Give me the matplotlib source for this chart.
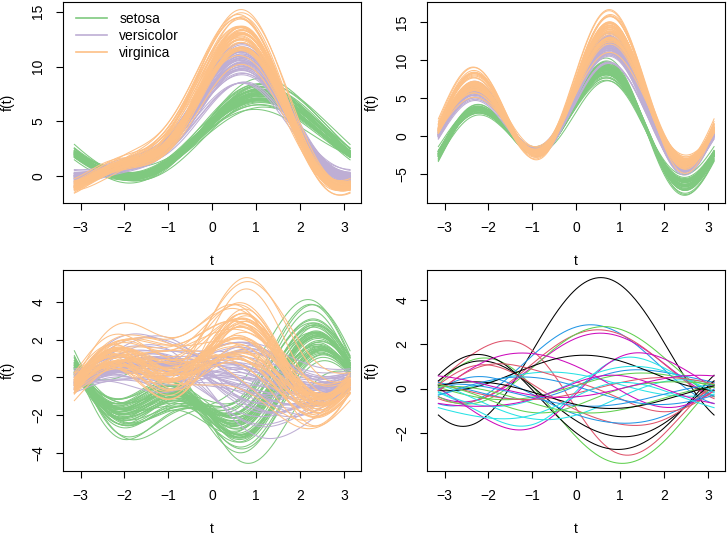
import numpy as np
import matplotlib
matplotlib.use("Agg")
from matplotlib import pyplot as plt

plt.rcParams['font.family'] = ['Liberation Sans', 'DejaVu Sans']
plt.rcParams['font.size'] = 10

# iris measurements (setosa 1-50, versicolor 51-100, virginica 101-150)
sepal_length = [
    5.1, 4.9, 4.7, 4.6, 5.0, 5.4, 4.6, 5.0, 4.4, 4.9, 5.4, 4.8, 4.8, 4.3, 5.8, 5.7, 5.4, 5.1, 5.7, 5.1,
    5.4, 5.1, 4.6, 5.1, 4.8, 5.0, 5.0, 5.2, 5.2, 4.7, 4.8, 5.4, 5.2, 5.5, 4.9, 5.0, 5.5, 4.9, 4.4, 5.1,
    5.0, 4.5, 4.4, 5.0, 5.1, 4.8, 5.1, 4.6, 5.3, 5.0,
    7.0, 6.4, 6.9, 5.5, 6.5, 5.7, 6.3, 4.9, 6.6, 5.2, 5.0, 5.9, 6.0, 6.1, 5.6, 6.7, 5.6, 5.8, 6.2, 5.6,
    5.9, 6.1, 6.3, 6.1, 6.4, 6.6, 6.8, 6.7, 6.0, 5.7, 5.5, 5.5, 5.8, 6.0, 5.4, 6.0, 6.7, 6.3, 5.6, 5.5,
    5.5, 6.1, 5.8, 5.0, 5.6, 5.7, 5.7, 6.2, 5.1, 5.7,
    6.3, 5.8, 7.1, 6.3, 6.5, 7.6, 4.9, 7.3, 6.7, 7.2, 6.5, 6.4, 6.8, 5.7, 5.8, 6.4, 6.5, 7.7, 7.7, 6.0,
    6.9, 5.6, 7.7, 6.3, 6.7, 7.2, 6.2, 6.1, 6.4, 7.2, 7.4, 7.9, 6.4, 6.3, 6.1, 7.7, 6.3, 6.4, 6.0, 6.9,
    6.7, 6.9, 5.8, 6.8, 6.7, 6.7, 6.3, 6.5, 6.2, 5.9]
sepal_width = [
    3.5, 3.0, 3.2, 3.1, 3.6, 3.9, 3.4, 3.4, 2.9, 3.1, 3.7, 3.4, 3.0, 3.0, 4.0, 4.4, 3.9, 3.5, 3.8, 3.8,
    3.4, 3.7, 3.6, 3.3, 3.4, 3.0, 3.4, 3.5, 3.4, 3.2, 3.1, 3.4, 4.1, 4.2, 3.1, 3.2, 3.5, 3.6, 3.0, 3.4,
    3.5, 2.3, 3.2, 3.5, 3.8, 3.0, 3.8, 3.2, 3.7, 3.3,
    3.2, 3.2, 3.1, 2.3, 2.8, 2.8, 3.3, 2.4, 2.9, 2.7, 2.0, 3.0, 2.2, 2.9, 2.9, 3.1, 3.0, 2.7, 2.2, 2.5,
    3.2, 2.8, 2.5, 2.8, 2.9, 3.0, 2.8, 3.0, 2.9, 2.6, 2.4, 2.4, 2.7, 2.7, 3.0, 3.4, 3.1, 2.3, 3.0, 2.5,
    2.6, 3.0, 2.6, 2.3, 2.7, 3.0, 2.9, 2.9, 2.5, 2.8,
    3.3, 2.7, 3.0, 2.9, 3.0, 3.0, 2.5, 2.9, 2.5, 3.6, 3.2, 2.7, 3.0, 2.5, 2.8, 3.2, 3.0, 3.8, 2.6, 2.2,
    3.2, 2.8, 2.8, 2.7, 3.3, 3.2, 2.8, 3.0, 2.8, 3.0, 2.8, 3.8, 2.8, 2.8, 2.6, 3.0, 3.4, 3.1, 3.0, 3.1,
    3.1, 3.1, 2.7, 3.2, 3.3, 3.0, 2.5, 3.0, 3.4, 3.0]
petal_length = [
    1.4, 1.4, 1.3, 1.5, 1.4, 1.7, 1.4, 1.5, 1.4, 1.5, 1.5, 1.6, 1.4, 1.1, 1.2, 1.5, 1.3, 1.4, 1.7, 1.5,
    1.7, 1.5, 1.0, 1.7, 1.9, 1.6, 1.6, 1.5, 1.4, 1.6, 1.6, 1.5, 1.5, 1.4, 1.5, 1.2, 1.3, 1.4, 1.3, 1.5,
    1.3, 1.3, 1.3, 1.6, 1.9, 1.4, 1.6, 1.4, 1.5, 1.4,
    4.7, 4.5, 4.9, 4.0, 4.6, 4.5, 4.7, 3.3, 4.6, 3.9, 3.5, 4.2, 4.0, 4.7, 3.6, 4.4, 4.5, 4.1, 4.5, 3.9,
    4.8, 4.0, 4.9, 4.7, 4.3, 4.4, 4.8, 5.0, 4.5, 3.5, 3.8, 3.7, 3.9, 5.1, 4.5, 4.5, 4.7, 4.4, 4.1, 4.0,
    4.4, 4.6, 4.0, 3.3, 4.2, 4.2, 4.2, 4.3, 3.0, 4.1,
    6.0, 5.1, 5.9, 5.6, 5.8, 6.6, 4.5, 6.3, 5.8, 6.1, 5.1, 5.3, 5.5, 5.0, 5.1, 5.3, 5.5, 6.7, 6.9, 5.0,
    5.7, 4.9, 6.7, 4.9, 5.7, 6.0, 4.8, 4.9, 5.6, 5.8, 6.1, 6.4, 5.6, 5.1, 5.6, 6.1, 5.6, 5.5, 4.8, 5.4,
    5.6, 5.1, 5.1, 5.9, 5.7, 5.2, 5.0, 5.2, 5.4, 5.1]
petal_width = [
    0.2, 0.2, 0.2, 0.2, 0.2, 0.4, 0.3, 0.2, 0.2, 0.1, 0.2, 0.2, 0.1, 0.1, 0.2, 0.4, 0.4, 0.3, 0.3, 0.3,
    0.2, 0.4, 0.2, 0.5, 0.2, 0.2, 0.4, 0.2, 0.2, 0.2, 0.2, 0.4, 0.1, 0.2, 0.2, 0.2, 0.2, 0.1, 0.2, 0.2,
    0.3, 0.3, 0.2, 0.6, 0.4, 0.3, 0.2, 0.2, 0.2, 0.2,
    1.4, 1.5, 1.5, 1.3, 1.5, 1.3, 1.6, 1.0, 1.3, 1.4, 1.0, 1.5, 1.0, 1.4, 1.3, 1.4, 1.5, 1.0, 1.5, 1.1,
    1.8, 1.3, 1.5, 1.2, 1.3, 1.4, 1.4, 1.7, 1.5, 1.0, 1.1, 1.0, 1.2, 1.6, 1.5, 1.6, 1.5, 1.3, 1.3, 1.3,
    1.2, 1.4, 1.2, 1.0, 1.3, 1.2, 1.3, 1.3, 1.1, 1.3,
    2.5, 1.9, 2.1, 1.8, 2.2, 2.1, 1.7, 1.8, 1.8, 2.5, 2.0, 1.9, 2.1, 2.0, 2.4, 2.3, 1.8, 2.2, 2.3, 1.5,
    2.3, 2.0, 2.0, 1.8, 2.1, 1.8, 1.8, 1.8, 2.1, 1.6, 1.9, 2.0, 2.2, 1.5, 1.4, 2.3, 2.4, 1.8, 1.8, 2.1,
    2.4, 2.3, 1.9, 2.3, 2.5, 2.3, 1.9, 2.0, 2.3, 1.8]
species_names = ['setosa', 'versicolor', 'virginica']
species_colors = ['#7FC97F', '#BEAED4', '#FDC086']
species = [0] * 50 + [1] * 50 + [2] * 50

# bottom-right panel: small 4-variable data set
demo_x1 = [2.33, -0.42, -1.41, 1.48, -0.21, 1.34, -0.99, 1.41, 1.48, 0.28, 0.28, -0.14, -0.78, -0.57, 0.14,
           -0.85, -0.71, 0.64, 0.99, 0.14, -0.71, -0.42, 0.14, -0.28, -0.42, 0.00, -0.42, -0.14, -0.85, 0.14]
demo_x2 = [1.78, -2.45, -2.06, 0.59, 1.45, 0.81, -1.70, 0.79, 1.03, 0.64, -0.31, 1.69, -1.45, -1.23, 0.60,
           -0.88, 0.58, -1.09, 0.14, -1.00, -0.18, -0.17, 0.87, 0.52, -0.43, 0.45, 0.52, -0.59, 0.76, 0.17]
demo_x3 = [2.84, -0.60, -1.18, 1.73, 0.03, 1.32, -1.30, 1.45, 1.41, -0.08, 0.45, -0.13, -0.90, -0.56, 0.04,
           -0.57, -0.69, 0.55, 0.79, 0.20, -0.57, -0.47, 0.24, 0.47, -0.42, -0.21, -0.47, 0.20, 0.26, -0.47]
demo_x4 = [0.00, -0.30, 0.00, 0.00, 0.30, 0.00, 0.10, 0.00, 0.00, 0.10, 0.00, 0.20, 0.10, 0.15, 0.00,
           0.10, 0.00, 0.10, 0.00, 0.20, 0.00, 0.00, 0.00, 0.10, 0.00, 0.00, 0.10, 0.00, 0.10, 0.00]
demo_colors = ['black', '#DF536B', '#61D04F', '#2297E6', '#28E2E5', '#CD0BBC']


def andrews(data, t):
    # f(t) = x1/sqrt(2) + x2 sin t + x3 cos t + x4 sin 2t + ...
    data = np.asarray(data, dtype=float)
    basis = [np.ones_like(t) / np.sqrt(2)]
    k = 1
    while len(basis) < data.shape[1]:
        basis.append(np.sin(k * t))
        basis.append(np.cos(k * t))
        k += 1
    return data @ np.vstack(basis[:data.shape[1]])


def style(ax, yticks):
    ax.margins(x=0.04, y=0.04)
    ax.set_xticks([-3, -2, -1, 0, 1, 2, 3])
    ax.set_yticks(yticks)
    ax.tick_params(direction='out', length=5, width=0.8, pad=8, labelsize=10)
    for lab in ax.get_yticklabels():
        lab.set_rotation(90)
        lab.set_va('center')
    for s in ax.spines.values():
        s.set_linewidth(0.8)
    ax.set_xlabel('t', labelpad=14)
    ax.set_ylabel('f(t)', labelpad=12)


iris = np.column_stack([sepal_length, sepal_width, petal_length, petal_width])
iris_scaled = (iris - iris.mean(0)) / iris.std(0, ddof=1)
t = np.linspace(-np.pi, np.pi, 201)

fig = plt.figure(figsize=(7.28, 5.35), dpi=100)
w, h = 0.409, 0.375
ax1 = fig.add_axes([0.087, 0.621, w, h])
ax2 = fig.add_axes([0.587, 0.621, w, h])
ax3 = fig.add_axes([0.087, 0.120, w, h])
ax4 = fig.add_axes([0.587, 0.120, w, h])

# raw, reordered (petal length, petal width, sepal width, sepal length), scaled
panels = [(ax1, iris, [0, 5, 10, 15]),
          (ax2, iris[:, [2, 3, 1, 0]], [-5, 0, 5, 10, 15]),
          (ax3, iris_scaled, [-4, -2, 0, 2, 4])]
for ax, data, yt in panels:
    curves = andrews(data, t)
    for i in range(len(curves)):
        ax.plot(t, curves[i], color=species_colors[species[i]], lw=0.75)
    style(ax, yt)

handles = [plt.Line2D([], [], color=c, lw=1.2) for c in species_colors]
ax1.legend(handles, species_names, loc='upper left', bbox_to_anchor=(0.02, 0.985), frameon=False,
           handlelength=2.2, handletextpad=0.9, labelspacing=0.2, borderpad=0, fontsize=10)

demo = np.column_stack([demo_x1, demo_x2, demo_x3, demo_x4])
demo_curves = andrews(demo, t)
for i in range(len(demo_curves)):
    ax4.plot(t, demo_curves[i], color=demo_colors[i % 6], lw=0.75)
style(ax4, [-2, 0, 2, 4])

fig.savefig('out.png', dpi=100)
